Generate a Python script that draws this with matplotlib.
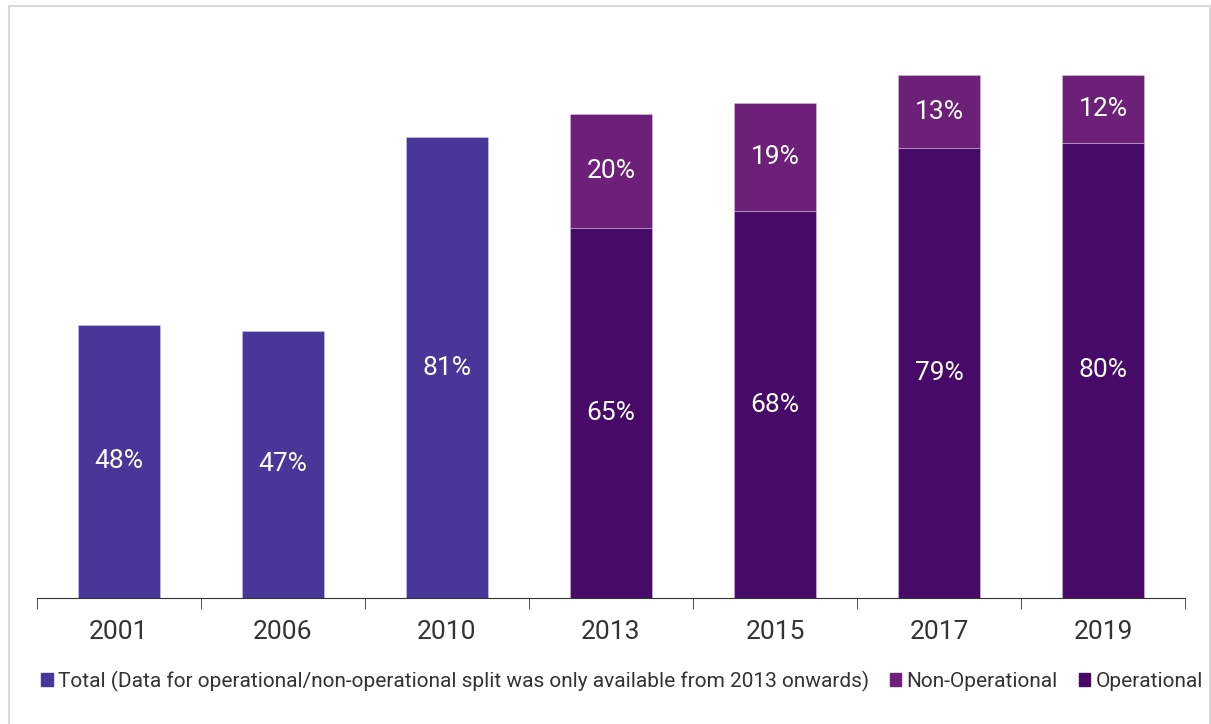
import numpy as np
import matplotlib.pyplot as plt
from matplotlib.patches import Patch, Rectangle

years = ['2001', '2006', '2010', '2013', '2015', '2017', '2019']
total = [48, 47, 81, 0, 0, 0, 0]
operational = [0, 0, 0, 65, 68, 79, 80]
non_operational = [0, 0, 0, 20, 19, 13, 12]

c_total = '#483698'
c_nonop = '#6d2077'
c_op = '#470a68'

plt.rcParams['font.family'] = ['Roboto', 'DejaVu Sans']

fig = plt.figure(figsize=(12.11, 7.24), dpi=100)
ax = fig.add_axes([37/1211, 1-598/724, (1185-37)/1211, (598-29)/724])

x = np.arange(len(years))
w = 0.5
edge = dict(edgecolor=(1, 1, 1, 0.3), linewidth=0.6)
ax.bar(x, total, w, color=c_total, **edge)
ax.bar(x, operational, w, color=c_op, **edge)
ax.bar(x, non_operational, w, bottom=operational, color=c_nonop, **edge)

lbl = dict(ha='center', va='center', color='white', fontsize=19, fontweight='normal')
for i in range(len(years)):
    if total[i] > 0:
        ax.text(x[i], total[i]/2, f'{total[i]}%', **lbl)
    if operational[i] > 0:
        ax.text(x[i], operational[i]/2, f'{operational[i]}%', **lbl)
    if non_operational[i] > 0:
        ax.text(x[i], operational[i] + non_operational[i]/2, f'{non_operational[i]}%', **lbl)

ax.set_xlim(-0.5, len(years) - 0.5)
ax.set_ylim(0, 100)
ax.set_yticks([])
for s in ['left', 'right', 'top']:
    ax.spines[s].set_visible(False)
ax.spines['bottom'].set_color('#333333')
ax.set_xticks(x)
ax.set_xticklabels(years, fontsize=19, color='#333333')
ax.tick_params(axis='x', which='major', length=0, pad=16)
ax.set_xticks(np.arange(-0.5, len(years)), minor=True)
ax.tick_params(axis='x', which='minor', length=8, color='#333333', direction='out')

handles = [Patch(color=c_total), Patch(color=c_nonop), Patch(color=c_op)]
labels = ['Total (Data for operational/non-operational split was only available from 2013 onwards)',
          'Non-Operational', 'Operational']
fig.legend(handles, labels, loc='center', bbox_to_anchor=(622/1211, 1-681/724), ncol=3,
           frameon=False, handlelength=0.55, handleheight=0.55,
           handletextpad=0.25, columnspacing=1.0, labelcolor='#333333',
           prop={'size': 15})

fig.patches.append(Rectangle((9/1211, -0.01), (1210-9)/1211, 1.01-6/724,
                             transform=fig.transFigure, fill=False,
                             edgecolor='#d9d9d9', linewidth=1.5))

fig.savefig('out.png', dpi=100)
